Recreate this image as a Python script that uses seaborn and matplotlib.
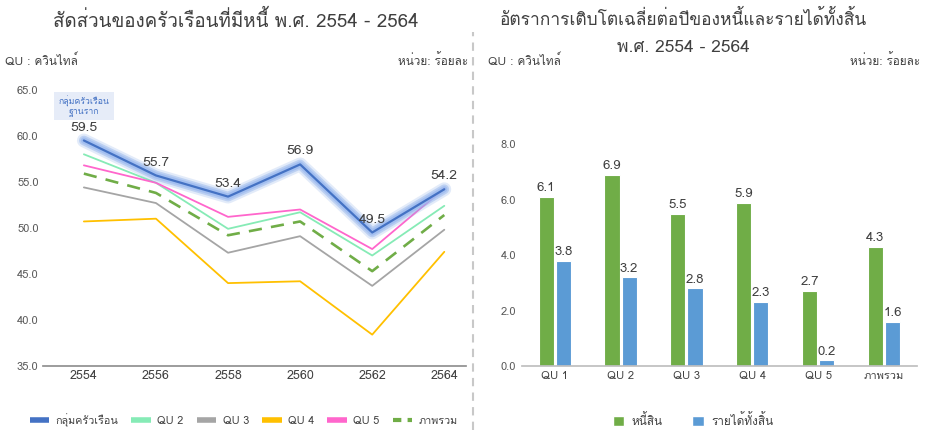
import pandas as pd
import matplotlib.pyplot as plt
import matplotlib.patheffects as pe
from matplotlib.lines import Line2D
from matplotlib.patches import Patch
from matplotlib import font_manager
from fontTools.ttLib import TTFont
import seaborn as sns

# Data - left chart (share of indebted households, %)
years = [2554, 2556, 2558, 2560, 2562, 2564]
qu_base = [59.5, 55.7, 53.4, 56.9, 49.5, 54.2]
qu2 = [58.0, 54.9, 49.9, 51.7, 47.0, 52.4]
qu3 = [54.4, 52.7, 47.3, 49.1, 43.7, 49.8]
qu4 = [50.7, 51.0, 44.0, 44.2, 38.4, 47.4]
qu5 = [56.8, 54.9, 51.2, 52.0, 47.7, 54.3]
overall = [55.9, 53.8, 49.2, 50.7, 45.3, 51.4]
line_labels = ['กลุ่มครัวเรือน', 'QU 2', 'QU 3', 'QU 4', 'QU 5', 'ภาพรวม']

# Data - right chart (average annual growth, %)
groups = ['QU 1', 'QU 2', 'QU 3', 'QU 4', 'QU 5', 'ภาพรวม']
debt_growth = [6.1, 6.9, 5.5, 5.9, 2.7, 4.3]
income_growth = [3.8, 3.2, 2.8, 2.3, 0.2, 1.6]
bar_labels = ['หนี้สิน', 'รายได้ทั้งสิ้น']


def find_thai_font():
    # look for an installed font that has Thai glyphs
    found = []
    for f in font_manager.fontManager.ttflist:
        try:
            tt = TTFont(f.fname, fontNumber=0, lazy=True)
            cmap = tt.getBestCmap()
            if cmap and 0x0E01 in cmap and 0x0E2A in cmap:
                found.append(f.name)
        except Exception:
            pass
    return found


sns.set_theme(style="white")
thai = find_thai_font()
plt.rcParams['font.family'] = thai[:1] + ['DejaVu Sans']
plt.rcParams['axes.unicode_minus'] = False

text_c = '#404040'
c_blue = '#4472C4'
c_mint = '#86EBB6'
c_grey = '#A5A5A5'
c_yellow = '#FFC000'
c_pink = '#FF66CC'
c_green = '#70AD47'
c_bar_blue = '#5B9BD5'

fig = plt.figure(figsize=(9.3, 4.3), dpi=100)

# ---------- left: line chart ----------
ax = fig.add_axes([0.046, 0.149, 0.455, 0.642])
sns.lineplot(x=years, y=qu4, ax=ax, color=c_yellow, lw=1.3)
sns.lineplot(x=years, y=qu3, ax=ax, color=c_grey, lw=1.3)
sns.lineplot(x=years, y=overall, ax=ax, color=c_green, lw=1.9, linestyle=(0, (5, 3.5)))
sns.lineplot(x=years, y=qu2, ax=ax, color=c_mint, lw=1.3)
sns.lineplot(x=years, y=qu5, ax=ax, color=c_pink, lw=1.3)
ln = sns.lineplot(x=years, y=qu_base, ax=ax, color=c_blue, lw=1.6).lines[-1]
ln.set_path_effects([
    pe.Stroke(linewidth=10, foreground='#8FB0EA', alpha=0.25),
    pe.Stroke(linewidth=7, foreground='#8FB0EA', alpha=0.45),
    pe.Stroke(linewidth=4.5, foreground='#9DBBF0', alpha=0.8),
    pe.Normal(),
])
for x, v in zip(years, qu_base):
    ax.annotate(f"{v:.1f}", (x, v), xytext=(0, 5), textcoords='offset points',
                ha='center', va='bottom', fontsize=10, color=text_c)
ax.text(years[0], 63.3, 'กลุ่มครัวเรือน\nฐานราก', ha='center', va='center',
        fontsize=6.3, color=c_blue, linespacing=0.9,
        bbox=dict(facecolor='#E6ECF8', edgecolor='none', pad=3))

ax.set_xlim(2552.86, 2564.6)
ax.set_ylim(35, 65)
ax.set_xticks(years)
ax.set_xticklabels([str(y) for y in years], fontsize=9, color=text_c)
ax.set_yticks(range(35, 66, 5))
ax.set_yticklabels([f"{v:.1f}" for v in range(35, 66, 5)], fontsize=8, color='#595959')
ax.tick_params(length=0, pad=3)
for s in ['top', 'right', 'left']:
    ax.spines[s].set_visible(False)
ax.spines['bottom'].set_color('#909090')

handles = [
    Line2D([], [], color=c_blue, lw=4, solid_capstyle='butt'),
    Line2D([], [], color=c_mint, lw=4, solid_capstyle='butt'),
    Line2D([], [], color=c_grey, lw=4, solid_capstyle='butt'),
    Line2D([], [], color=c_yellow, lw=4, solid_capstyle='butt'),
    Line2D([], [], color=c_pink, lw=4, solid_capstyle='butt'),
    Line2D([], [], color=c_green, lw=3, linestyle=(0, (2, 1.5)), dash_capstyle='butt'),
]
fig.legend(handles, line_labels, loc='center', bbox_to_anchor=(0.262, 0.023), ncol=6,
           frameon=False, fontsize=7.8, handlelength=1.8, columnspacing=1.2,
           handletextpad=0.6, labelcolor=text_c)

fig.text(0.253, 0.953, 'สัดส่วนของครัวเรือนที่มีหนี้ พ.ศ. 2554 - 2564', ha='center', va='center',
         fontsize=13.5, color=text_c)
fig.text(0.005, 0.86, 'QU : ควินไทล์', ha='left', va='center', fontsize=8.5, color=text_c)
fig.text(0.503, 0.86, 'หน่วย: ร้อยละ', ha='right', va='center', fontsize=8.5, color=text_c)

# ---------- right: bar chart ----------
df = pd.DataFrame({
    'group': groups * 2,
    'series': [bar_labels[0]] * len(groups) + [bar_labels[1]] * len(groups),
    'value': debt_growth + income_growth,
})
ax2 = fig.add_axes([0.561, 0.149, 0.425, 0.515])
sns.barplot(data=df, x='group', y='value', hue='series', ax=ax2,
            palette=[c_green, c_bar_blue], saturation=1, width=0.52, gap=0.12,
            edgecolor='white', linewidth=0.8, legend=False)
for cont in ax2.containers:
    ax2.bar_label(cont, fmt='%.1f', padding=2, fontsize=9.5, color=text_c)
ax2.set_xlim(-0.5, 5.5)
ax2.set_ylim(0, 8)
ax2.set_yticks([0, 2, 4, 6, 8])
ax2.set_yticklabels([f"{v:.1f}" for v in [0, 2, 4, 6, 8]], fontsize=8, color='#595959')
ax2.set_xticks(range(len(groups)))
ax2.set_xticklabels(groups, fontsize=8, color=text_c)
ax2.set_xlabel('')
ax2.set_ylabel('')
ax2.tick_params(length=0, pad=4)
for s in ['top', 'right', 'left']:
    ax2.spines[s].set_visible(False)
ax2.spines['bottom'].set_color('#BFBFBF')

bar_handles = [Patch(facecolor=c_green), Patch(facecolor=c_bar_blue)]
fig.legend(bar_handles, bar_labels, loc='center', bbox_to_anchor=(0.745, 0.023), ncol=2,
           frameon=False, fontsize=8.5, handlelength=1.0, handleheight=1.0,
           columnspacing=2.5, handletextpad=0.6, labelcolor=text_c)

fig.text(0.735, 0.955, 'อัตราการเติบโตเฉลี่ยต่อปีของหนี้และรายได้ทั้งสิ้น', ha='center', va='center',
         fontsize=12.5, color=text_c)
fig.text(0.735, 0.888, 'พ.ศ. 2554 - 2564', ha='center', va='center', fontsize=12.5, color=text_c)
fig.text(0.525, 0.86, 'QU : ควินไทล์', ha='left', va='center', fontsize=8.5, color=text_c)
fig.text(0.99, 0.86, 'หน่วย: ร้อยละ', ha='right', va='center', fontsize=8.5, color=text_c)

# dashed separator between panels
fig.add_artist(Line2D([0.5086, 0.5086], [0.0, 0.925], transform=fig.transFigure,
                      color='#C8C8C8', lw=1.5, linestyle=(0, (4, 3))))

fig.savefig('out.png', dpi=100)
